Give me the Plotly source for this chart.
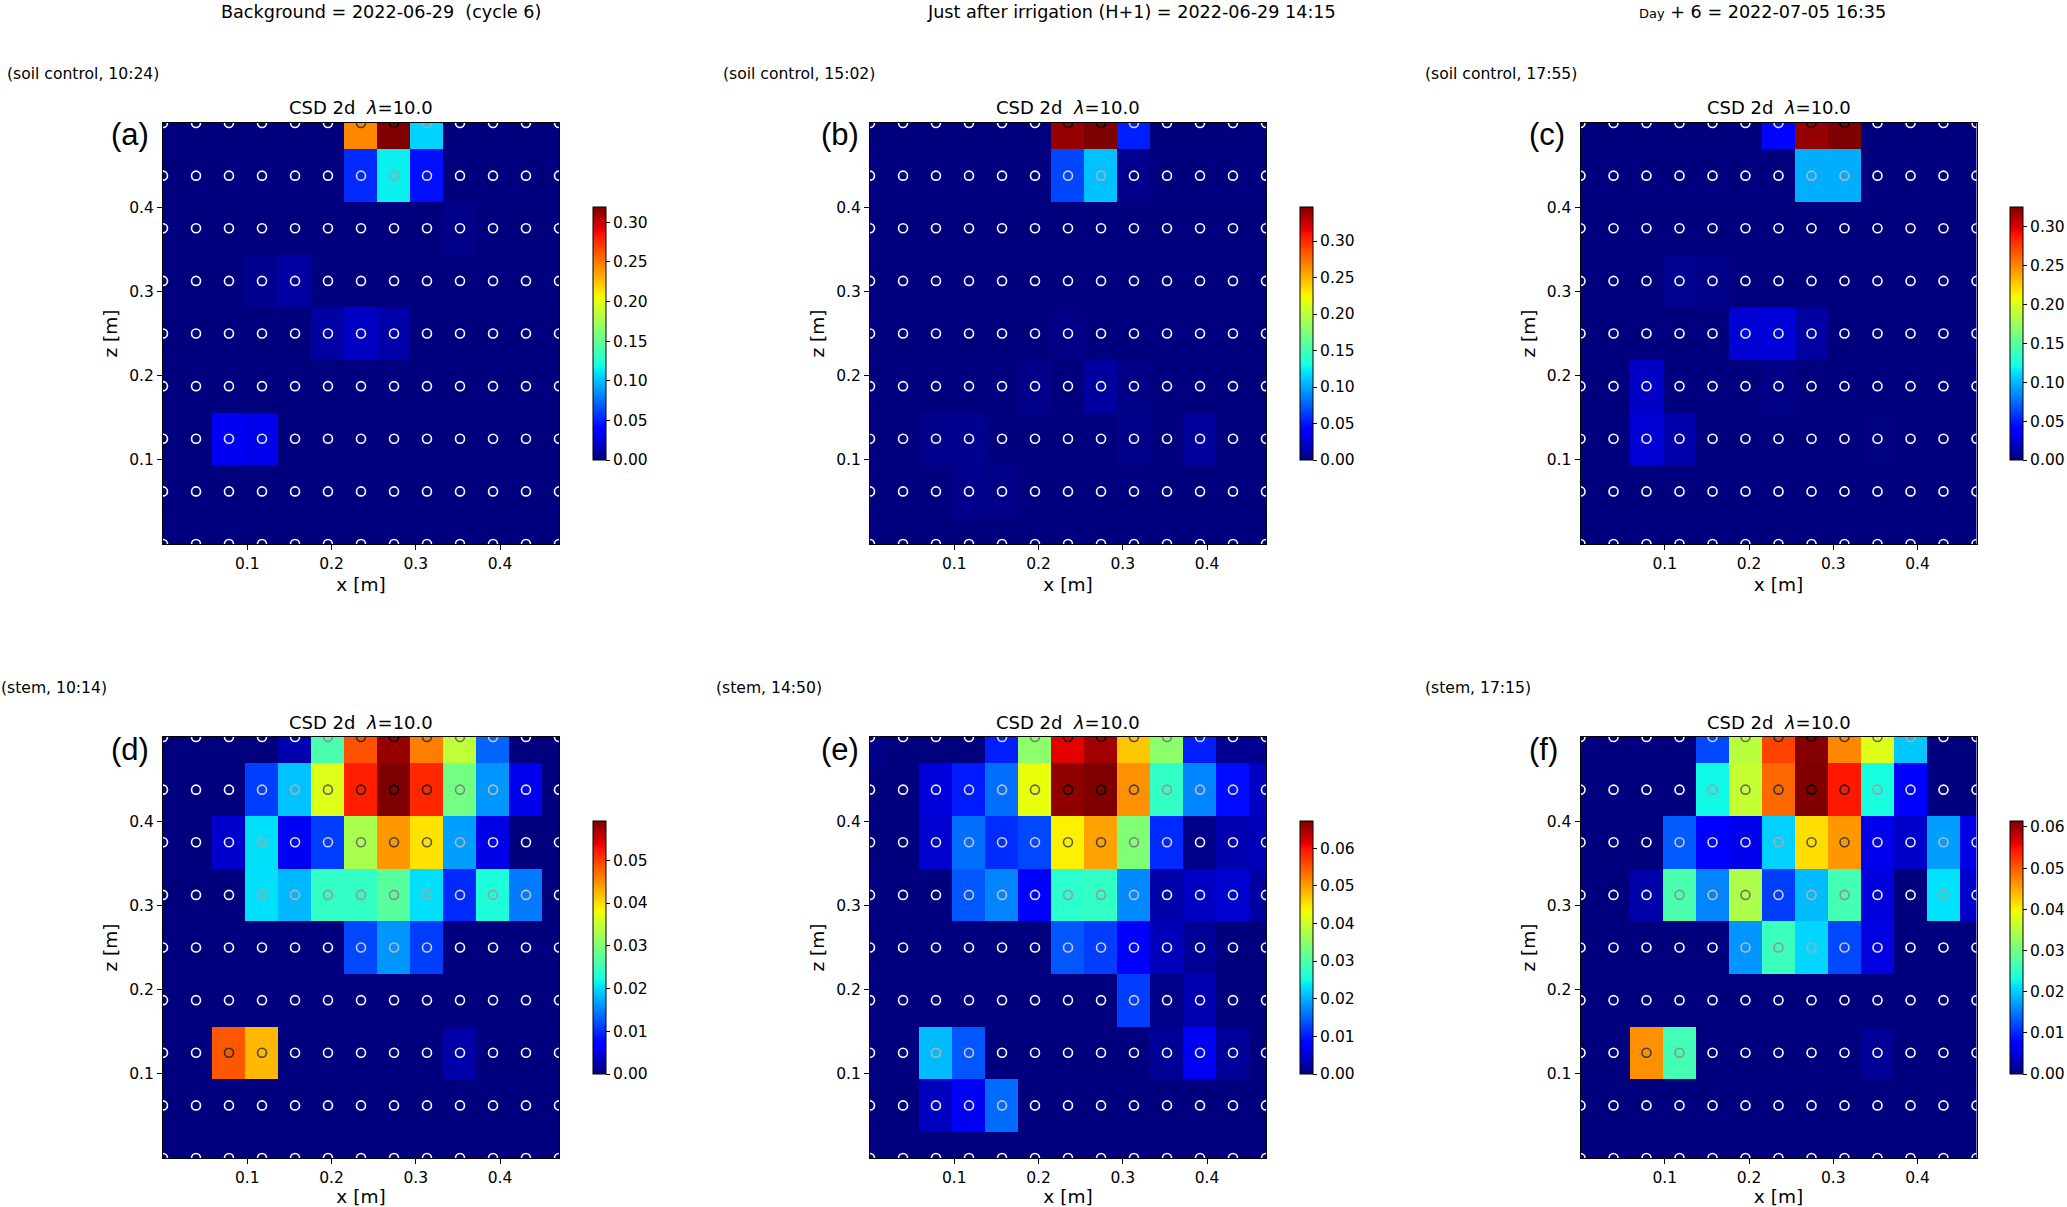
import numpy as np
import plotly.graph_objects as go

W, H = 2067, 1207

x_positions = [0.0, 0.0392, 0.0783, 0.1175, 0.1567, 0.1958, 0.235, 0.2742, 0.3133, 0.3525, 0.3917, 0.4308, 0.47]
z_positions = [0.5, 0.4375, 0.375, 0.3125, 0.25, 0.1875, 0.125, 0.0625, 0.0]

csd_a = [
    [0, 0, 0, 0, 0, 0, 0.245, 0.319, 0.106, 0, 0, 0, 0],
    [0, 0, 0, 0, 0, 0, 0.053, 0.115, 0.045, 0, 0, 0, 0],
    [0, 0, 0, 0, 0, 0, 0, 0, 0, 0.003, 0, 0, 0],
    [0, 0, 0, 0.004, 0.01, 0, 0, 0, 0, 0, 0, 0, 0],
    [0, 0, 0, 0, 0, 0.01, 0.019, 0.012, 0, 0, 0, 0, 0],
    [0, 0, 0, 0, 0, 0, 0, 0, 0, 0, 0, 0, 0],
    [0, 0, 0.032, 0.03, 0, 0, 0, 0, 0, 0, 0, 0, 0],
    [0, 0, 0, 0, 0, 0, 0, 0, 0, 0, 0, 0, 0],
    [0, 0, 0, 0, 0, 0, 0, 0, 0, 0, 0, 0, 0],
]
csd_b = [
    [0, 0, 0, 0, 0, 0, 0.34, 0.3466, 0.054, 0, 0, 0, 0],
    [0, 0, 0, 0, 0, 0, 0.067, 0.109, 0.004, 0, 0, 0, 0],
    [0, 0, 0, 0, 0, 0, 0, 0, 0, 0, 0, 0, 0],
    [0, 0, 0, 0, 0, 0, 0, 0, 0, 0, 0, 0, 0],
    [0, 0, 0, 0, 0, 0, 0.002, 0, 0, 0, 0, 0, 0],
    [0, 0, 0, 0, 0, 0.003, 0, 0.01, 0.002, 0, 0, 0, 0],
    [0, 0, 0.004, 0.005, 0, 0, 0, 0, 0.003, 0, 0.009, 0, 0],
    [0, 0, 0, 0.004, 0.003, 0, 0, 0, 0, 0, 0, 0, 0],
    [0, 0, 0, 0, 0, 0, 0, 0, 0, 0, 0, 0, 0],
]
csd_c = [
    [0, 0, 0, 0, 0, 0, 0.042, 0.319, 0.3256, 0, 0, 0, 0],
    [0, 0, 0, 0, 0, 0, 0, 0.096, 0.096, 0, 0, 0, 0],
    [0, 0, 0, 0, 0, 0, 0, 0, 0, 0, 0, 0, 0],
    [0, 0, 0, 0.005, 0.003, 0, 0, 0, 0, 0, 0, 0, 0],
    [0, 0, 0, 0, 0, 0.024, 0.025, 0.01, 0, 0, 0, 0, 0],
    [0, 0, 0.02, 0, 0, 0, 0.002, 0, 0, 0, 0, 0, 0],
    [0, 0, 0.024, 0.012, 0, 0, 0, 0, 0, 0.001, 0, 0, 0],
    [0, 0, 0, 0, 0, 0, 0, 0, 0, 0, 0, 0, 0],
    [0, 0, 0, 0, 0, 0, 0, 0, 0, 0, 0, 0, 0],
]
csd_d = [
    [0, 0, 0, 0, 0.0024, 0.026, 0.0488, 0.058, 0.046, 0.0344, 0.0132, 0, 0],
    [0, 0, 0, 0.011, 0.0187, 0.0367, 0.052, 0.0592, 0.0515, 0.029, 0.0161, 0.0056, 0],
    [0, 0, 0.004, 0.0204, 0.006, 0.011, 0.033, 0.0444, 0.0397, 0.0166, 0.0053, 0, 0],
    [0, 0, 0, 0.0204, 0.0181, 0.0243, 0.0243, 0.0272, 0.0204, 0.0098, 0.0228, 0.0145, 0],
    [0, 0, 0, 0, 0, 0, 0.0115, 0.0161, 0.011, 0, 0, 0, 0],
    [0, 0, 0, 0, 0, 0, 0, 0, 0, 0, 0, 0, 0],
    [0, 0, 0.0485, 0.0423, 0, 0, 0, 0, 0, 0.0021, 0, 0, 0],
    [0, 0, 0, 0, 0, 0, 0, 0, 0, 0, 0, 0, 0],
    [0, 0, 0, 0, 0, 0, 0, 0, 0, 0, 0, 0, 0],
]
csd_e = [
    [0.0005, 0, 0, 0, 0.0104, 0.035, 0.0615, 0.065, 0.047, 0.035, 0.0104, 0.001, 0.001],
    [0, 0, 0.0054, 0.0101, 0.0157, 0.0427, 0.0662, 0.0672, 0.0509, 0.0276, 0.0171, 0.0091, 0.004],
    [0, 0, 0.0046, 0.0157, 0.0114, 0.0131, 0.044, 0.0497, 0.034, 0.0111, 0.0005, 0.0027, 0.0034],
    [0, 0, 0, 0.0141, 0.0171, 0.0077, 0.0269, 0.0276, 0.0175, 0.0024, 0.004, 0.0046, 0.002],
    [0, 0, 0, 0, 0, 0, 0.0141, 0.0124, 0.008, 0.0034, 0.0014, 0, 0],
    [0, 0, 0, 0, 0, 0, 0, 0, 0.0124, 0.0005, 0.003, 0, 0],
    [0, 0, 0.0208, 0.0141, 0, 0, 0, 0, 0, 0.0012, 0.0067, 0.0015, 0],
    [0, 0, 0.0037, 0.0067, 0.0155, 0, 0, 0, 0, 0, 0, 0, 0],
    [0, 0, 0, 0, 0, 0, 0, 0, 0, 0, 0, 0, 0],
]
csd_f = [
    [0, 0, 0, 0, 0.012, 0.0353, 0.0516, 0.0611, 0.0471, 0.0381, 0.0197, 0, 0],
    [0, 0, 0, 0, 0.0227, 0.0362, 0.0492, 0.0614, 0.0544, 0.0233, 0.0074, 0, 0],
    [0, 0, 0, 0.0132, 0.0074, 0.0058, 0.0203, 0.0415, 0.0461, 0.0058, 0.004, 0.0172, 0.0055],
    [0, 0, 0.0022, 0.027, 0.0157, 0.0344, 0.0114, 0.019, 0.0264, 0.0049, 0, 0.0212, 0.004],
    [0, 0, 0, 0, 0, 0.0167, 0.0258, 0.0206, 0.012, 0.0052, 0, 0, 0],
    [0, 0, 0, 0, 0, 0, 0, 0, 0, 0, 0, 0, 0],
    [0, 0, 0.0465, 0.0264, 0, 0, 0, 0, 0, 0.0012, 0, 0, 0],
    [0, 0, 0, 0, 0, 0, 0, 0, 0, 0, 0, 0, 0],
    [0, 0, 0, 0, 0, 0, 0, 0, 0, 0, 0, 0, 0],
]
color_max = [0.3193, 0.3466, 0.3256, 0.0592, 0.0672, 0.06144]
panel_data = [csd_a, csd_b, csd_c, csd_d, csd_e, csd_f]
panel_letters = ["(a)", "(b)", "(c)", "(d)", "(e)", "(f)"]
panel_notes = ["(soil control, 10:24)", "(soil control, 15:02)", "(soil control, 17:55)",
               "(stem, 10:14)", "(stem, 14:50)", "(stem, 17:15)"]
column_titles = ["Background = 2022-06-29  (cycle 6)",
                 "Just after irrigation (H+1) = 2022-06-29 14:15",
                 "<span style='font-size:13px'>Day</span> + 6 = 2022-07-05 16:35"]
axis_ticks = [0.1, 0.2, 0.3, 0.4]
cbar_dtick = [0.05, 0.05, 0.05, 0.01, 0.01, 0.01]

JET = [[0, "rgb(0,0,127)"], [0.11, "rgb(0,0,255)"], [0.125, "rgb(0,0,255)"], [0.34, "rgb(0,219,255)"],
       [0.35, "rgb(0,230,247)"], [0.375, "rgb(21,255,226)"], [0.64, "rgb(238,255,8)"], [0.65, "rgb(247,245,0)"],
       [0.66, "rgb(255,236,0)"], [0.89, "rgb(255,19,0)"], [0.91, "rgb(232,0,0)"], [1, "rgb(127,0,0)"]]
GRAY_R = [[0, "rgb(255,255,255)"], [1, "rgb(0,0,0)"]]

FONT = "DejaVu Sans"
plot_left = [163, 870, 1580.5]
plot_w = 396
row_top = [123, 737]
plot_h = 421
cbar_left = [592.5, 1300, 2010]
cbar_top = [207, 821]
cbar_h = 253
letter_x = [109, 819, 1527]
note_x = [[5, 721, 1423], [-1, 714, 1423]]
note_y = [74, 688]
col_title_x = [380.5, 1131.5, 1762]

fig = go.Figure()
layout = dict(width=W, height=H, margin=dict(l=0, r=0, t=0, b=0, pad=0), paper_bgcolor="white",
              plot_bgcolor="white", showlegend=False, font=dict(family=FONT, color="black", size=15))
annotations = []


def ann(text, px, py, size, xanchor="center", family=FONT, textangle=0):
    annotations.append(dict(text=text, x=px / W, y=1 - py / H, xref="paper", yref="paper", showarrow=False,
                            xanchor=xanchor, yanchor="middle", textangle=textangle,
                            font=dict(size=size, family=family, color="black")))


xx, yy = np.meshgrid(x_positions, z_positions)
for i, data in enumerate(panel_data):
    col, row = i % 3, i // 3
    n = str(i + 1) if i else ""
    fig.add_trace(go.Heatmap(
        x=x_positions, y=z_positions, z=data, zmin=0, zmax=color_max[i], colorscale=JET,
        xaxis="x" + n, yaxis="y" + n, hoverongaps=False,
        colorbar=dict(x=cbar_left[col] / W, xanchor="left", xref="paper",
                      y=1 - (cbar_top[row] + cbar_h) / H, yanchor="bottom", yref="paper",
                      len=cbar_h, lenmode="pixels", thickness=12.7, thicknessmode="pixels",
                      xpad=0, ypad=0, outlinecolor="black", outlinewidth=1,
                      ticks="outside", ticklen=4, tickwidth=1, tickcolor="black",
                      tick0=0, dtick=cbar_dtick[i], tickformat=".2f",
                      tickfont=dict(size=15.5, family=FONT, color="black"))))
    fig.add_trace(go.Scatter(
        x=xx.ravel().tolist(), y=yy.ravel().tolist(), mode="markers",
        xaxis="x" + n, yaxis="y" + n, hoverinfo="skip",
        marker=dict(symbol="circle-open", size=9, line=dict(width=1.6),
                    color=np.array(data).ravel().tolist(), cmin=0, cmax=color_max[i],
                    colorscale=GRAY_R, showscale=False)))
    left, top = plot_left[col], row_top[row]
    layout["xaxis" + n] = dict(
        domain=[left / W, (left + plot_w) / W], range=[0, 0.47], anchor="y" + n,
        tickvals=axis_ticks, tickformat=".1f", ticks="outside", ticklen=5, tickwidth=1, tickcolor="black",
        showgrid=False, zeroline=False, showline=True, linewidth=1, linecolor="black", mirror=True,
        tickfont=dict(size=15.5, family=FONT, color="black"),
        title=dict(text="x [m]", font=dict(size=18.5, family=FONT, color="black"), standoff=6))
    layout["yaxis" + n] = dict(
        domain=[1 - (top + plot_h) / H, 1 - top / H], range=[0, 0.5], anchor="x" + n,
        tickvals=axis_ticks, tickformat=".1f", ticks="outside", ticklen=5, tickwidth=1, tickcolor="black",
        showgrid=False, zeroline=False, showline=True, linewidth=1, linecolor="black", mirror=True,
        tickfont=dict(size=15.5, family=FONT, color="black"),
        title=dict(text="z [m]", font=dict(size=18.5, family=FONT, color="black"), standoff=6))
    ann("CSD 2d  <i>λ</i>=10.0", left + plot_w / 2, top - 15, 18)
    ann(panel_letters[i], letter_x[col], top + 12, 31, xanchor="left", family="Liberation Sans")
    ann(panel_notes[i], note_x[row][col], note_y[row], 15.6, xanchor="left")

for c in range(3):
    ann(column_titles[c], col_title_x[c], 12, 17.6)

layout["annotations"] = annotations
fig.update_layout(**layout)
fig.write_html("out.html", config={"displayModeBar": False},
               post_script="document.body.style.margin='0';document.body.style.overflow='hidden';")
